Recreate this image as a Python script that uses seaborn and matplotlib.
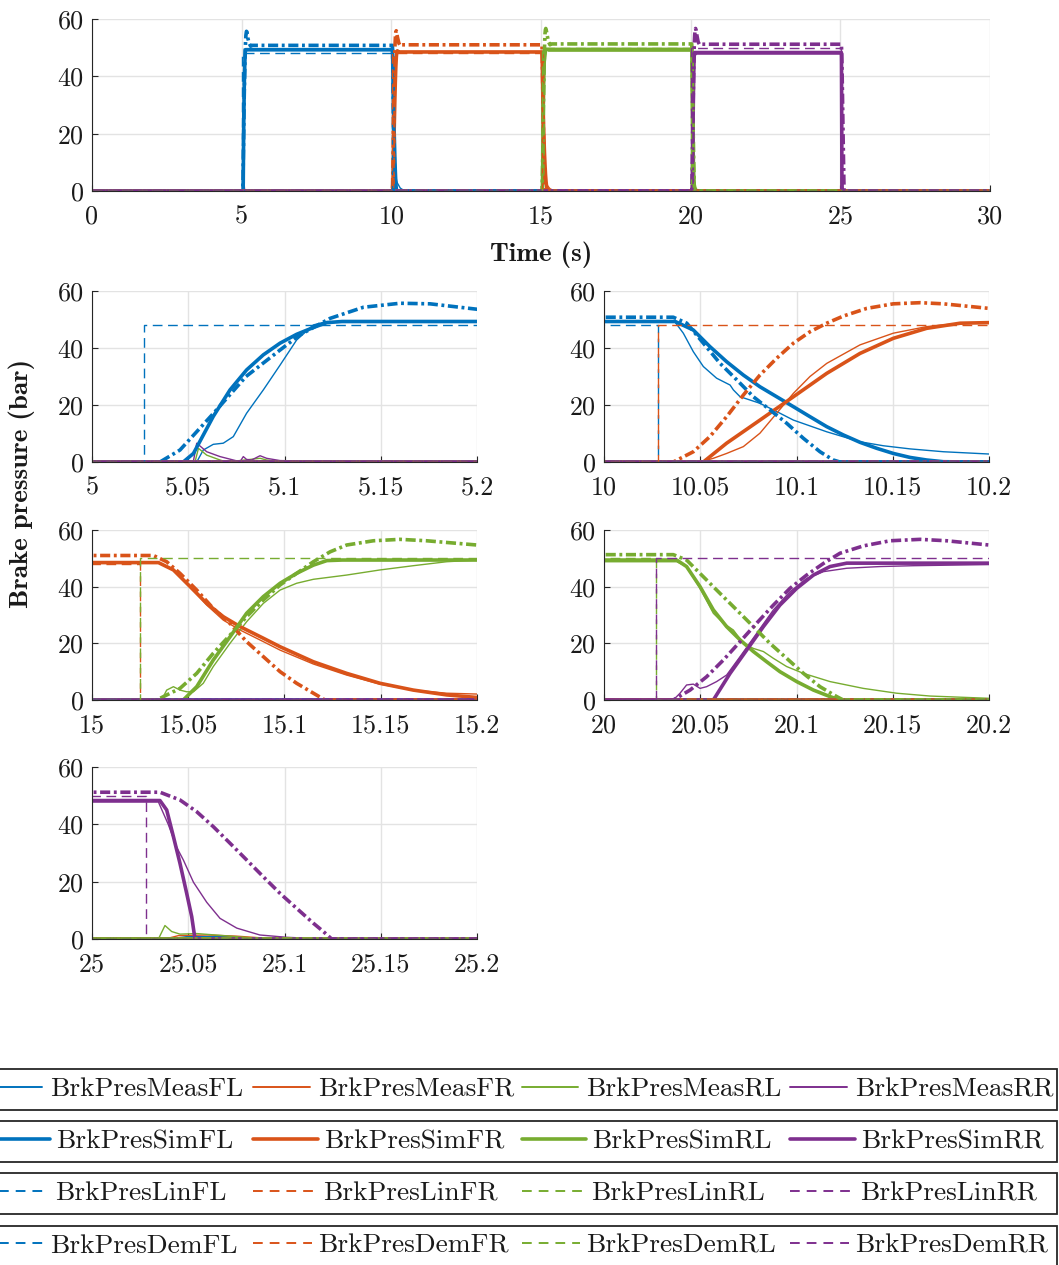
import matplotlib
matplotlib.use("Agg")
import matplotlib.pyplot as plt
from matplotlib.lines import Line2D
from matplotlib.patches import Rectangle
from matplotlib.ticker import FuncFormatter
import pandas as pd
import seaborn as sns

# ---------------- data (time s, pressure bar) ----------------
wheels = ["FL", "FR", "RL", "RR"]
kinds = ["Meas", "Sim", "Lin", "Dem"]

meas_fl = [(0, 0), (5.0544, 0), (5.0578, 4.2), (5.063, 6.2), (5.0682, 6.6), (5.0734, 8.9), (5.0803, 17.1),
           (5.089, 25.3), (5.0977, 34.0), (5.1063, 42.8), (5.115, 48.1), (5.122, 49.3), (5.13, 49.0),
           (10.037, 49.0), (10.0412, 45.2), (10.0464, 38.7), (10.0516, 33.5), (10.0585, 29.4), (10.0655, 27.0),
           (10.0672, 25.3), (10.0707, 22.9), (10.081, 20.6), (10.0897, 17.7), (10.0984, 14.7), (10.1157, 10.6),
           (10.133, 7.1), (10.1451, 5.7), (10.159, 4.6), (10.1763, 3.6), (10.2, 2.8), (10.3, 1.0), (10.45, 0),
           (25.04, 0), (25.05, 0.9), (25.07, 0.8), (25.09, 0), (30, 0)]
sim_fl = [(0, 0), (5.0474, 0), (5.0527, 3.0), (5.063, 16.0), (5.0717, 25.3), (5.0803, 32.3), (5.089, 37.6),
          (5.0977, 41.7), (5.1063, 44.8), (5.115, 47.2), (5.122, 48.9), (5.13, 49.3), (10.037, 49.3),
          (10.0464, 46.3), (10.055, 40.5), (10.0637, 35.2), (10.0724, 30.5), (10.081, 26.4), (10.0897, 22.9),
          (10.0984, 19.4), (10.107, 15.9), (10.1157, 12.4), (10.1243, 9.5), (10.133, 6.9), (10.1417, 4.8),
          (10.1503, 3.0), (10.159, 1.6), (10.1676, 0.7), (10.1763, 0.1), (10.19, 0), (30, 0)]
lin_fl = [(0, 0), (5.0353, 0), (5.0457, 4.2), (5.063, 17.0), (5.080, 30.0), (5.0977, 39.3), (5.108, 44.6),
          (5.1237, 50.4), (5.141, 54.3), (5.160, 55.7), (5.1756, 55.5), (5.2, 53.6), (5.25, 51.5), (5.3, 50.5),
          (5.35, 50.8), (10.036, 50.8), (10.043, 48.7), (10.0516, 41.7), (10.0603, 34.6), (10.069, 28.8),
          (10.0776, 22.9), (10.0862, 18.3), (10.0949, 13.6), (10.1036, 8.3), (10.1122, 3.6), (10.1191, 0.7),
          (10.1226, 0), (30, 0)]
dem_fl = [(0, 0), (5.027, 0), (5.027, 48), (10.028, 48), (10.028, 0), (30, 0)]

meas_fr = [(0, 0), (10.05, 0), (10.0568, 1.3), (10.0637, 3.0), (10.0724, 5.4), (10.081, 10.1), (10.0897, 17.1),
           (10.0984, 24.1), (10.107, 30.0), (10.1157, 34.6), (10.133, 41.1), (10.1503, 45.2), (10.1676, 47.5),
           (10.185, 48.7), (10.2, 49.0), (10.25, 48.5), (15.0345, 48.5), (15.0423, 45.9), (15.051, 40.0),
           (15.0596, 33.5), (15.0682, 28.2), (15.0769, 24.7), (15.089, 20.6), (15.0977, 17.6), (15.115, 12.7),
           (15.1323, 8.8), (15.1496, 5.6), (15.1669, 3.5), (15.1842, 2.4), (15.2, 2.1), (15.3, 0.8), (15.45, 0),
           (25.038, 0), (25.045, 1.2), (25.06, 1.4), (25.075, 1.0), (25.09, 0.3), (25.1, 0), (30, 0)]
sim_fr = [(0, 0), (10.0516, 0), (10.0637, 6.6), (10.081, 14.7), (10.0984, 22.9), (10.1157, 31.1), (10.133, 38.1),
          (10.1503, 43.4), (10.1676, 46.9), (10.185, 48.7), (10.2, 48.9), (10.25, 48.5), (15.0345, 48.5),
          (15.0423, 45.9), (15.051, 40.0), (15.0596, 34.1), (15.0682, 29.4), (15.0769, 25.9), (15.089, 21.8),
          (15.0977, 18.8), (15.115, 13.5), (15.1323, 9.4), (15.1496, 5.9), (15.1669, 3.5), (15.1842, 1.8),
          (15.2, 0.9), (15.25, 0.2), (15.3, 0), (30, 0)]
lin_fr = [(0, 0), (10.036, 0), (10.0464, 3.6), (10.055, 8.9), (10.0637, 15.9), (10.0724, 23.5), (10.081, 30.5),
          (10.0897, 36.4), (10.0984, 41.7), (10.107, 45.7), (10.1157, 48.7), (10.1243, 51.2), (10.1365, 53.9),
          (10.1503, 55.5), (10.1642, 55.9), (10.1763, 55.5), (10.2, 53.9), (10.25, 51.6), (10.3, 50.6),
          (10.35, 51.0), (15.0319, 51.0), (15.0388, 48.8), (15.0457, 44.7), (15.0544, 38.8), (15.063, 32.3),
          (15.0717, 27.0), (15.0803, 20.6), (15.089, 15.3), (15.0977, 10.0), (15.1063, 5.9), (15.115, 2.4),
          (15.121, 0), (30, 0)]
dem_fr = [(0, 0), (10.028, 0), (10.028, 48), (15.025, 48), (15.025, 0), (30, 0)]

meas_rl = [(0, 0), (5.0535, 0), (5.0553, 4.8), (5.0596, 2.4), (5.0665, 0.7), (5.07, 0), (5.0873, 1.3),
           (5.0907, 0.7), (5.1, 0), (15.0362, 0), (15.0388, 3.5), (15.0423, 4.7), (15.0457, 3.5), (15.0492, 2.9),
           (15.0527, 2.9), (15.0578, 5.9), (15.063, 11.8), (15.0717, 20.0), (15.0803, 27.6), (15.089, 34.1),
           (15.0977, 38.8), (15.1063, 41.2), (15.115, 42.6), (15.1323, 44.1), (15.1496, 45.9), (15.1669, 47.4),
           (15.1842, 48.8), (15.2, 49.4), (15.25, 48.8), (20.0378, 48.8), (20.0429, 47.1), (20.0499, 39.4),
           (20.0568, 30.6), (20.062, 27.1), (20.0672, 24.7), (20.0724, 20.0), (20.0776, 18.2), (20.0828, 17.1),
           (20.088, 14.7), (20.0949, 11.8), (20.1036, 9.4), (20.1174, 6.5), (20.1347, 4.1), (20.152, 2.4),
           (20.1693, 1.4), (20.2, 0.6), (20.3, 0.2), (20.4, 0), (25.0345, 0), (25.0379, 4.7), (25.0414, 2.6),
           (25.0457, 1.7), (25.0544, 1.9), (25.0717, 1.0), (25.09, 0), (30, 0)]
sim_rl = [(0, 0), (15.0474, 0), (15.0544, 4.7), (15.063, 14.1), (15.0717, 22.3), (15.0803, 30.6), (15.089, 36.5),
          (15.0977, 41.2), (15.1063, 44.7), (15.115, 47.6), (15.122, 49.2), (15.13, 49.4), (20.0378, 49.4),
          (20.0429, 47.1), (20.0499, 40.0), (20.0568, 31.8), (20.0637, 25.9), (20.0707, 21.2), (20.0776, 17.1),
          (20.0845, 13.5), (20.0914, 10.0), (20.1001, 6.5), (20.1088, 3.5), (20.1174, 1.2), (20.1226, 0), (30, 0)]
lin_rl = [(0, 0), (15.0336, 0), (15.0457, 4.1), (15.0544, 9.4), (15.063, 16.5), (15.0717, 22.9), (15.0803, 29.4),
          (15.089, 35.3), (15.0977, 40.6), (15.1063, 44.7), (15.115, 48.8), (15.1237, 52.3), (15.1323, 54.7),
          (15.1462, 56.2), (15.16, 56.7), (15.1738, 56.2), (15.2, 54.7), (15.25, 52.0), (15.3, 51.0),
          (15.35, 51.3), (20.036, 51.3), (20.0429, 49.4), (20.0516, 43.5), (20.0603, 37.6), (20.0689, 31.8),
          (20.0776, 25.9), (20.0862, 20.0), (20.0949, 14.7), (20.1036, 9.4), (20.1122, 4.7), (20.1209, 1.2),
          (20.1243, 0), (30, 0)]
dem_rl = [(0, 0), (15.025, 0), (15.025, 50), (20.027, 50), (20.027, 0), (30, 0)]

meas_rr = [(0, 0), (5.0526, 0), (5.0544, 6.6), (5.0596, 3.6), (5.0665, 1.9), (5.0734, 0.7), (5.0769, 0.1),
           (5.0786, 1.9), (5.0803, 0.9), (5.0829, 0.7), (5.0873, 2.2), (5.0907, 1.3), (5.0977, 0.5), (5.115, 0.3),
           (5.15, 0), (20.036, 0), (20.0395, 2.4), (20.0429, 5.3), (20.0464, 5.6), (20.0499, 4.1), (20.0533, 4.7),
           (20.0585, 6.5), (20.0637, 8.8), (20.0707, 15.3), (20.0793, 23.5), (20.088, 31.8), (20.0966, 38.2),
           (20.1053, 42.9), (20.114, 45.3), (20.1261, 46.5), (20.1434, 47.1), (20.1607, 47.4), (20.2, 47.8),
           (25.0345, 47.8), (25.0396, 40.0), (25.044, 32.0), (25.0475, 27.5), (25.0527, 19.8), (25.0596, 12.8),
           (25.0665, 7.2), (25.0752, 3.8), (25.0872, 1.4), (25.1011, 0.6), (25.12, 0), (30, 0)]
sim_rr = [(0, 0), (20.0568, 0), (20.0655, 9.4), (20.0741, 17.6), (20.0828, 25.9), (20.0914, 33.5), (20.1001, 39.4),
          (20.1088, 44.1), (20.1174, 47.1), (20.1261, 48.3), (25.0353, 48.3), (25.0388, 45.0), (25.0423, 35.7),
          (25.0457, 26.4), (25.0492, 15.9), (25.0518, 7.8), (25.0535, 0), (30, 0)]
lin_rr = [(0, 0), (20.036, 0), (20.0447, 3.5), (20.0533, 8.2), (20.062, 14.1), (20.0707, 20.6), (20.0793, 27.1),
          (20.088, 33.5), (20.0966, 39.4), (20.1053, 44.1), (20.114, 48.2), (20.1226, 51.8), (20.1348, 54.4),
          (20.1486, 56.2), (20.1642, 56.7), (20.178, 56.2), (20.2, 54.7), (20.25, 52.0), (20.3, 51.0),
          (20.35, 51.2), (25.0353, 51.2), (25.0457, 48.5), (25.0544, 44.4), (25.063, 39.2), (25.0717, 33.4),
          (25.0803, 27.6), (25.089, 21.7), (25.0977, 15.9), (25.1063, 10.7), (25.115, 5.5), (25.1202, 2.6),
          (25.1245, 0), (30, 0)]
dem_rr = [(0, 0), (20.027, 0), (20.027, 50), (25.028, 50), (25.028, 0), (30, 0)]

zoom_starts = [5, 10, 15, 20, 25]

# ---------------- styling ----------------
sns.set_theme(style="whitegrid")
plt.rcParams.update({
    "font.family": ["cmr10", "DejaVu Serif"],
    "mathtext.fontset": "cm",
    "axes.formatter.use_mathtext": True,
    "axes.unicode_minus": False,
})

colors = {"FL": "#0072BD", "FR": "#D95319", "RL": "#77AC30", "RR": "#7E2F8E"}
series = {
    ("Meas", "FL"): meas_fl, ("Meas", "FR"): meas_fr, ("Meas", "RL"): meas_rl, ("Meas", "RR"): meas_rr,
    ("Sim", "FL"): sim_fl, ("Sim", "FR"): sim_fr, ("Sim", "RL"): sim_rl, ("Sim", "RR"): sim_rr,
    ("Lin", "FL"): lin_fl, ("Lin", "FR"): lin_fr, ("Lin", "RL"): lin_rl, ("Lin", "RR"): lin_rr,
    ("Dem", "FL"): dem_fl, ("Dem", "FR"): dem_fr, ("Dem", "RL"): dem_rl, ("Dem", "RR"): dem_rr,
}
styles = {
    "Meas": dict(linewidth=1.0, linestyle="-"),
    "Sim": dict(linewidth=2.6, linestyle="-"),
    "Lin": dict(linewidth=2.6, linestyle=(0, (2.8, 1.0, 0.8, 1.0))),
    "Dem": dict(linewidth=1.0, linestyle=(0, (7, 4))),
}
frames = {k: pd.DataFrame(v, columns=["t", "p"]) for k, v in series.items()}

TXT = "#1a1a1a"
SPINE = "#262626"
GRID = "#e3e3e3"
fmt = FuncFormatter(lambda v, p: f"{v:g}")


def draw(ax, xlim, xticks):
    for kind in kinds:
        for w in wheels:
            sns.lineplot(data=frames[(kind, w)], x="t", y="p", ax=ax, color=colors[w],
                         sort=False, estimator=None, legend=False, **styles[kind])
    ax.set_xlim(*xlim)
    ax.set_ylim(0, 60)
    ax.set_xticks(xticks)
    ax.set_yticks([0, 20, 40, 60])
    ax.xaxis.set_major_formatter(fmt)
    ax.yaxis.set_major_formatter(fmt)
    ax.set_xlabel("")
    ax.set_ylabel("")
    ax.grid(True, color=GRID, linewidth=1.0)
    ax.set_axisbelow(True)
    for s in ["top", "right"]:
        ax.spines[s].set_visible(False)
    for s in ["left", "bottom"]:
        ax.spines[s].set_color(SPINE)
        ax.spines[s].set_linewidth(0.8)
    ax.tick_params(axis="both", direction="in", length=4, width=0.8, color=SPINE,
                   labelsize=18.8, labelcolor=TXT, left=True, bottom=True)
    ax.tick_params(axis="x", pad=10)
    ax.tick_params(axis="y", pad=6)
    ax.set_facecolor("white")


W, H = 1059, 1265
fig = plt.figure(figsize=(W / 100, H / 100), dpi=100)
fig.patch.set_facecolor("white")


def px_axes(x0, x1, y0, y1):
    return fig.add_axes([x0 / W, 1 - y1 / H, (x1 - x0) / W, (y1 - y0) / H])


ax_top = px_axes(92, 990, 19, 191)
draw(ax_top, (0, 30), [0, 5, 10, 15, 20, 25, 30])
ax_top.set_xlabel("Time (s)", fontsize=19.5, family="cmb10", color=TXT, labelpad=9)

pos = [((92, 477), (291, 462)), ((604, 989), (291, 462)),
       ((92, 477), (530, 700)), ((604, 989), (530, 700)),
       ((92, 477), (767, 939))]
for st, ((x0, x1), (y0, y1)) in zip(zoom_starts, pos):
    ax = px_axes(x0, x1, y0, y1)
    draw(ax, (st, st + 0.2), [round(st + 0.05 * k, 2) for k in range(5)])

fig.text(22 / W, 1 - 483 / H, "Brake pressure (bar)", rotation=90, ha="center", va="center",
         fontsize=19.5, family="cmb10", color=TXT)

# ---------------- legends (four boxed rows, fixed column slots) ----------------
LEG_FS = 19.7
leg_handles = {
    "Meas": dict(lw=1.4, ls="-"),
    "Sim": dict(lw=2.6, ls="-"),
    "Lin": dict(lw=1.4, ls=(0, (5, 3.6))),
    "Dem": dict(lw=1.4, ls=(0, (5, 3.6))),
}
handle_len = {"Meas": 2.08, "Sim": 2.37, "Lin": 2.23, "Dem": 2.15}
text_pad = {"Meas": 0.29, "Sim": 0.22, "Lin": 0.33, "Dem": 0.22}
row_tops = [1069, 1121, 1173, 1225.5]
box_h = 40.5
col_x = [-15, 253, 521.5, 790]
for kind, top in zip(kinds, row_tops):
    fig.patches.append(Rectangle(((-10) / W, 1 - (top + box_h) / H), (1057 + 10) / W, box_h / H,
                                 transform=fig.transFigure, fill=True, facecolor="white",
                                 edgecolor=SPINE, linewidth=1.3, zorder=1))
    cy = 1 - (top + box_h / 2) / H
    for w, cx in zip(wheels, col_x):
        h = Line2D([], [], color=colors[w], **leg_handles[kind])
        leg = fig.legend([h], [f"BrkPres{kind}{w}"], loc="center left",
                         bbox_to_anchor=(cx / W, cy), frameon=False, fontsize=LEG_FS,
                         handlelength=handle_len[kind], handletextpad=text_pad[kind],
                         borderpad=0, borderaxespad=0)
        leg.set_zorder(3)
        for t in leg.get_texts():
            t.set_color(TXT)

fig.savefig("out.png", dpi=100, facecolor="white")
